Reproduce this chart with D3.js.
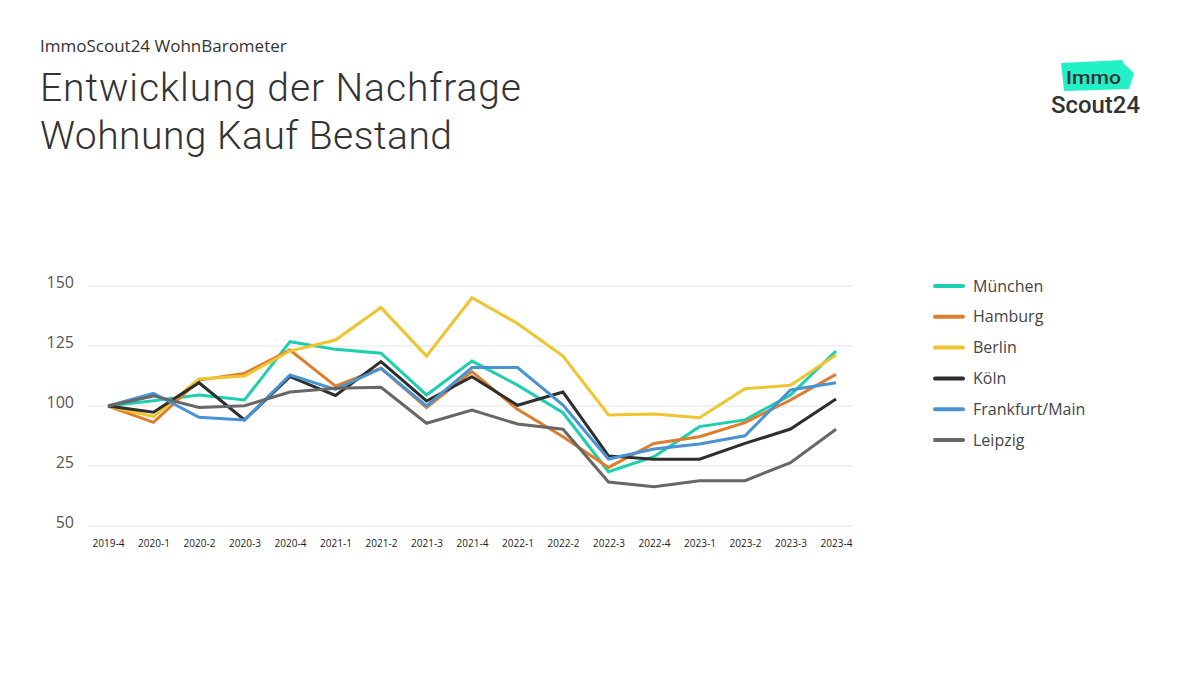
<!DOCTYPE html>
<html><head><meta charset="utf-8">
<script src="https://cdn.jsdelivr.net/npm/d3@7"></script>
<style>
html,body{margin:0;padding:0;background:#fff;}
svg{display:block;font-family:"Open Sans","Noto Sans",sans-serif;}
</style></head>
<body>
<svg id="chart" width="1200" height="675"></svg>
<script>
const categories = ["2019-4","2020-1","2020-2","2020-3","2020-4","2021-1","2021-2","2021-3","2021-4","2022-1","2022-2","2022-3","2022-4","2023-1","2023-2","2023-3","2023-4"];
const muenchen  = [100,102.2,104.6,102.5,126.8,123.6,122,104.6,118.7,108.7,97.2,72.6,78.9,91.4,94.2,104.6,122.9];
const hamburg   = [100,93.2,110.8,113.6,123.3,108.3,115.7,99.4,114.3,98.6,87.2,74.4,84.4,87.2,93.1,102.5,113.2];
const berlin    = [100,95.6,111.3,112.5,122.9,127.5,141,120.8,145.1,134.4,120.8,96.3,96.7,95.1,107.2,108.6,121.3];
const koeln     = [100,97.4,109.7,94.2,112.2,104.4,118.5,102.1,112.2,100.3,105.8,79.2,77.8,77.8,84.4,90.4,102.9];
const frankfurt = [100,105.3,95.3,94.2,112.9,106.9,115.7,100,116,116,100.4,77.9,82.1,84.2,87.6,106.7,109.7];
const leipzig   = [100,104.2,99.4,100.1,105.8,107.4,107.8,92.8,98.3,92.5,90.3,68.3,66.4,68.9,68.9,76.4,90.3];
const seriesNames = ["München","Hamburg","Berlin","Köln","Frankfurt/Main","Leipzig"];
const seriesColors = ["#1ccfae","#e07d2c","#eec52f","#2e2e2e","#4893d3","#676767"];
const tickValues = [150,125,100,75,50];
const tickLabels = ["150","125","100","25","50"];

const seriesData = [muenchen,hamburg,berlin,koeln,frankfurt,leipzig];
const svg = d3.select("#chart");

// Header
svg.append("text").attr("x",40).attr("y",52).attr("font-size",17).attr("fill","#333").text("ImmoScout24 WohnBarometer");
svg.append("text").attr("x",40).attr("y",101).attr("font-size",39).attr("font-weight",300)
  .attr("font-family","Roboto, sans-serif").attr("fill","#333")
  .attr("textLength",481).attr("lengthAdjust","spacing").text("Entwicklung der Nachfrage");
svg.append("text").attr("x",40).attr("y",149).attr("font-size",39).attr("font-weight",300)
  .attr("font-family","Roboto, sans-serif").attr("fill","#333")
  .attr("textLength",412).attr("lengthAdjust","spacing").text("Wohnung Kauf Bestand");

// Logo
const logo = svg.append("g").attr("font-family","Roboto, sans-serif");
logo.append("path").attr("d","M1061,63 L1122,60 L1124,64 L1134,73 L1129,89 L1064,91 Z").attr("fill","#23f0c7");
logo.append("text").attr("x",1066).attr("y",84).attr("font-size",19).attr("font-weight",500).attr("fill","#333")
  .attr("textLength",55).attr("lengthAdjust","spacingAndGlyphs").text("Immo");
logo.append("text").attr("x",1051).attr("y",113).attr("font-size",24).attr("font-weight",500).attr("fill","#333")
  .attr("textLength",89).attr("lengthAdjust","spacingAndGlyphs").text("Scout24");

// Scales
const x = d3.scalePoint().domain(categories).range([108,836]);
const y = d3.scaleLinear().domain([50,150]).range([526,286]);

// Grid
svg.append("g").selectAll("line").data(tickValues).join("line")
  .attr("x1",88).attr("x2",853).attr("y1",d=>y(d)).attr("y2",d=>y(d))
  .attr("stroke","#e6e6e6").attr("stroke-width",1.2);

// Y axis labels
const yAxis = d3.axisLeft(y).tickValues(tickValues).tickSize(0).tickPadding(0)
  .tickFormat((d,i)=>tickLabels[i]);
const yg = svg.append("g").attr("transform","translate(74,0)").call(yAxis);
yg.select(".domain").remove();
yg.selectAll("text").attr("font-size",16).attr("fill","#555").attr("font-family","'Open Sans',sans-serif").attr("dy","0.1em");

// X axis labels
const xAxis = d3.axisBottom(x).tickSize(0).tickPadding(0);
const xg = svg.append("g").attr("transform","translate(0,540)").call(xAxis);
xg.select(".domain").remove();
xg.selectAll("text").attr("font-size",10).attr("fill","#222").attr("font-family","'Open Sans',sans-serif");

// Lines
const line = d3.line().x((d,i)=>x(categories[i])).y(d=>y(d));
svg.append("g").selectAll("path").data(seriesData).join("path")
  .attr("d",d=>line(d)).attr("fill","none")
  .attr("stroke",(d,i)=>seriesColors[i]).attr("stroke-width",3)
  .attr("stroke-linejoin","miter").attr("stroke-linecap","butt");

// Legend
const lg = svg.append("g").selectAll("g").data(seriesNames).join("g")
  .attr("transform",(d,i)=>`translate(935,${286+i*30.8})`);
lg.append("line").attr("x1",0).attr("x2",28).attr("y1",0).attr("y2",0)
  .attr("stroke",(d,i)=>seriesColors[i]).attr("stroke-width",4).attr("stroke-linecap","round");
lg.append("text").attr("x",38).attr("y",0).attr("dy","0.35em").attr("font-size",16).attr("fill","#444").text(d=>d);
</script>
</body></html>
